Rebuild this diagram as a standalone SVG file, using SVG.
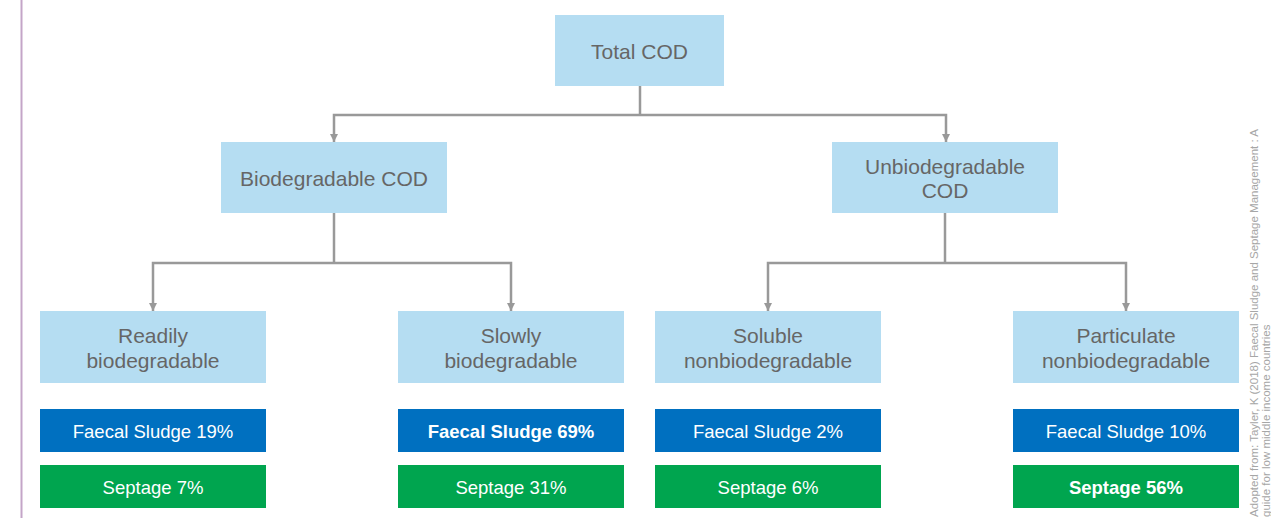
<svg xmlns="http://www.w3.org/2000/svg" width="1271" height="519" viewBox="0 0 1271 519">
<defs>
<style>
.n{fill:#b5ddf2}
.fs{fill:#0070c0}
.sp{fill:#00a54f}
.t{font-family:"Liberation Sans",Arial,sans-serif;font-size:21px;fill:#666666;text-anchor:middle}
.w{font-family:"Liberation Sans",Arial,sans-serif;font-size:18.5px;fill:#ffffff;text-anchor:middle}
.b{font-weight:bold}
.c{fill:none;stroke:#999999;stroke-width:2.5;marker-end:url(#ah)}
.cn{fill:none;stroke:#999999;stroke-width:2.5}
.src{font-family:"Liberation Sans",Arial,sans-serif;font-size:11.5px;fill:#a6a6a6}
</style>
<marker id="ah" markerUnits="userSpaceOnUse" markerWidth="10" markerHeight="9" refX="8" refY="4.5" orient="auto">
<path d="M0,0.5 L8,4.5 L0,8.5 Z" fill="#999999"/>
</marker>
</defs>
<rect x="0" y="0" width="1271" height="519" fill="#ffffff"/>
<line x1="21.5" y1="0" x2="21.5" y2="518" stroke="#c4a5c8" stroke-width="2"/>

<g id="connectors">
<path class="cn" d="M640,86 V115"/>
<path class="c" d="M640,115 H334 V142"/>
<path class="c" d="M640,115 H946 V142"/>
<path class="cn" d="M334,213 V263"/>
<path class="c" d="M334,263 H153 V311"/>
<path class="c" d="M334,263 H511 V311"/>
<path class="cn" d="M945,213 V263"/>
<path class="c" d="M945,263 H768 V311"/>
<path class="c" d="M945,263 H1126 V311"/>
</g>

<g id="total">
<rect class="n" x="555" y="15" width="169" height="71"/>
<text class="t" x="639.5" y="59">Total COD</text>
</g>
<g id="biodegradable">
<rect class="n" x="221" y="142" width="226" height="71"/>
<text class="t" x="334" y="186">Biodegradable COD</text>
</g>
<g id="unbiodegradable">
<rect class="n" x="832" y="142" width="226" height="71"/>
<text class="t" x="945" y="174">Unbiodegradable</text>
<text class="t" x="945" y="198">COD</text>
</g>

<g id="readily">
<rect class="n" x="40" y="311" width="226" height="72"/>
<text class="t" x="153" y="343">Readily</text>
<text class="t" x="153" y="367.5">biodegradable</text>
</g>
<g id="slowly">
<rect class="n" x="398" y="311" width="226" height="72"/>
<text class="t" x="511" y="343">Slowly</text>
<text class="t" x="511" y="367.5">biodegradable</text>
</g>
<g id="soluble">
<rect class="n" x="655" y="311" width="226" height="72"/>
<text class="t" x="768" y="343">Soluble</text>
<text class="t" x="768" y="367.5">nonbiodegradable</text>
</g>
<g id="particulate">
<rect class="n" x="1013" y="311" width="226" height="72"/>
<text class="t" x="1126" y="343">Particulate</text>
<text class="t" x="1126" y="367.5">nonbiodegradable</text>
</g>

<g id="fs1">
<rect class="fs" x="40" y="409" width="226" height="43"/>
<text class="w" x="153" y="438">Faecal Sludge 19%</text>
</g>
<g id="fs2">
<rect class="fs" x="398" y="409" width="226" height="43"/>
<text class="w b" x="511" y="438">Faecal Sludge 69%</text>
</g>
<g id="fs3">
<rect class="fs" x="655" y="409" width="226" height="43"/>
<text class="w" x="768" y="438">Faecal Sludge 2%</text>
</g>
<g id="fs4">
<rect class="fs" x="1013" y="409" width="226" height="43"/>
<text class="w" x="1126" y="438">Faecal Sludge 10%</text>
</g>

<g id="sp1">
<rect class="sp" x="40" y="465" width="226" height="43"/>
<text class="w" x="153" y="494">Septage 7%</text>
</g>
<g id="sp2">
<rect class="sp" x="398" y="465" width="226" height="43"/>
<text class="w" x="511" y="494">Septage 31%</text>
</g>
<g id="sp3">
<rect class="sp" x="655" y="465" width="226" height="43"/>
<text class="w" x="768" y="494">Septage 6%</text>
</g>
<g id="sp4">
<rect class="sp" x="1013" y="465" width="226" height="43"/>
<text class="w b" x="1126" y="494">Septage 56%</text>
</g>

<g id="source">
<text class="src" transform="translate(1258,517) rotate(-90)">Adopted from: Tayler, K (2018) Faecal Sludge and Septage Management : A</text>
<text class="src" transform="translate(1270,517) rotate(-90)">guide for low middle income countries</text>
</g>
</svg>
